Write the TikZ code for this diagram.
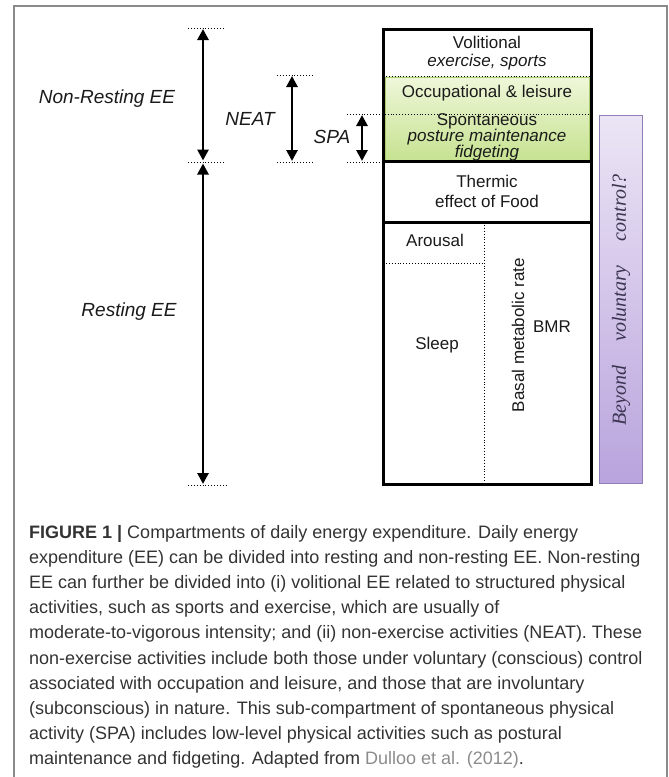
\documentclass[tikz,border=0pt]{standalone}
\usepackage{fontspec}
\newfontfamily\lsans{Liberation Sans}
\newfontfamily\lserif{Liberation Serif}
\usetikzlibrary{arrows.meta}
\definecolor{framegray}{HTML}{8A8A8A}
\definecolor{captext}{HTML}{333333}
\definecolor{citegray}{HTML}{8C8C8C}
\definecolor{greentop}{HTML}{EFF7DA}
\definecolor{greenbot}{HTML}{C6E290}
\definecolor{greenedge}{HTML}{A9CC6C}
\definecolor{purptop}{HTML}{ECE5F5}
\definecolor{purpbot}{HTML}{B9A4DD}
\definecolor{purpedge}{HTML}{8F7DB5}
\definecolor{purptext}{HTML}{3A3450}
\definecolor{ink}{HTML}{1A1A1A}
\begin{document}
\begin{tikzpicture}[x=1pt,y=-1pt,
  boxtext/.style={font=\lsans\fontsize{17}{20}\selectfont, text=ink, inner sep=0pt, text height=11.5pt, text depth=3.3pt},
  boxital/.style={boxtext, font=\lsans\itshape\fontsize{17}{20}\selectfont},
  sidelabel/.style={font=\lsans\itshape\fontsize{19}{22}\selectfont, text=ink, inner sep=0pt},
  dotline/.style={dotted, line width=0.9pt},
  heavy/.style={line width=3pt},
  dblarrow/.style={line width=2.8pt, {Triangle[length=11pt,width=11pt]}-{Triangle[length=11pt,width=11pt]}},
  capline/.style={anchor=base west, inner sep=0pt, font=\lsans\fontsize{18}{25}\selectfont, text=captext}
]
\useasboundingbox (0,0) rectangle (669,777);
% outer frame
\draw[framegray, line width=1.2pt] (14,777) -- (14,6) -- (667,6) -- (667,777);

% green band
\fill[top color=greentop, bottom color=greenbot] (384,76) rectangle (590,161);
\draw[greenedge, line width=0.6pt] (385,77) rectangle (589,160);

% purple bar
\draw[purpedge, line width=1pt, top color=purptop, bottom color=purpbot] (599,115) rectangle (642,483);

% dotted guide lines
\draw[dotline] (188,28) -- (225,28);
\draw[dotline] (188,162) -- (225,162);
\draw[dotline] (188,485) -- (227,485);
\draw[dotline] (277,75) -- (314,75);
\draw[dotline] (277,162) -- (314,162);
\draw[dotline] (347,162) -- (383,162);
\draw[dotline] (383,76) -- (591,76);
\draw[dotline] (347,114) -- (591,114);
\draw[dotline] (484,222) -- (484,484);
\draw[dotline] (383,263) -- (484,263);

% main box
\draw[heavy] (383,29) rectangle (591,484);
\draw[heavy] (383,161) -- (591,161);
\draw[heavy] (383,222) -- (591,222);

% arrow end points
\coordinate (nrTop) at (203,29);
\coordinate (nrBot) at (203,160.5);
\coordinate (rTop) at (203,163.5);
\coordinate (rBot) at (203,484);
\coordinate (neatTop) at (292,76);
\coordinate (neatBot) at (292,161);
\coordinate (spaTop) at (362,115);
\coordinate (spaBot) at (362,161);
\draw[dblarrow] (nrTop) -- (nrBot);
\draw[dblarrow] (rTop) -- (rBot);
\draw[dblarrow] (neatTop) -- (neatBot);
\draw[dblarrow] (spaTop) -- (spaBot);

% side labels
\node[sidelabel] (nonrest) at (107,99) {Non-Resting EE};
\node[sidelabel] (rest) at (129,312) {Resting EE};
\node[sidelabel] (neat) at (250,119) {NEAT};
\node[sidelabel] (spa) at (332,137) {SPA};

% box texts
\node[boxtext] (vol) at (487,44.5) {Volitional};
\node[boxital] (exer) at (487,62) {exercise, sports};
\node[boxtext] (occ) at (487,93.5) {Occupational \& leisure};
\node[boxtext] (spon) at (487,121.5) {Spontaneous};
\node[boxital] (post) at (487,137.5) {posture maintenance};
\node[boxital] (fidg) at (487,153) {fidgeting};
\node[boxtext] (therm) at (487,183.5) {Thermic};
\node[boxtext] (food) at (487,203.5) {effect of Food};
\node[boxtext] (arous) at (435,242.5) {Arousal};
\node[boxtext] (sleep) at (437,345.5) {Sleep};
\node[boxtext, rotate=90] (basal) at (520,335) {Basal metabolic rate};
\node[boxtext] (bmr) at (552,328.5) {BMR};

% purple bar text
\node[rotate=90, inner sep=0pt, text=purptext, font=\lserif\itshape\fontsize{20}{23}\selectfont] (beyond) at (621,300)
  {Beyond\hspace{24pt}voluntary\hspace{24pt}control?};

% caption
\node[capline] (cap1) at (29,538.5) {\textbf{FIGURE 1 |} Compartments of daily energy expenditure. Daily energy};
\node[capline] (cap2) at (29,563.6) {expenditure (EE) can be divided into resting and non-resting EE. Non-resting};
\node[capline] (cap3) at (29,588.7) {EE can further be divided into (i) volitional EE related to structured physical};
\node[capline] (cap4) at (29,613.8) {activities, such as sports and exercise, which are usually of};
\node[capline] (cap5) at (29,638.9) {moderate-to-vigorous intensity; and (ii) non-exercise activities (NEAT). These};
\node[capline] (cap6) at (29,664.0) {non-exercise activities include both those under voluntary (conscious) control};
\node[capline] (cap7) at (29,689.1) {associated with occupation and leisure, and those that are involuntary};
\node[capline] (cap8) at (29,714.2) {(subconscious) in nature. This sub-compartment of spontaneous physical};
\node[capline] (cap9) at (29,739.3) {activity (SPA) includes low-level physical activities such as postural};
\node[capline] (cap10) at (29,764.4) {maintenance and fidgeting. Adapted from \textcolor{citegray}{Dulloo et al. (2012)}.};
\end{tikzpicture}
\end{document}
